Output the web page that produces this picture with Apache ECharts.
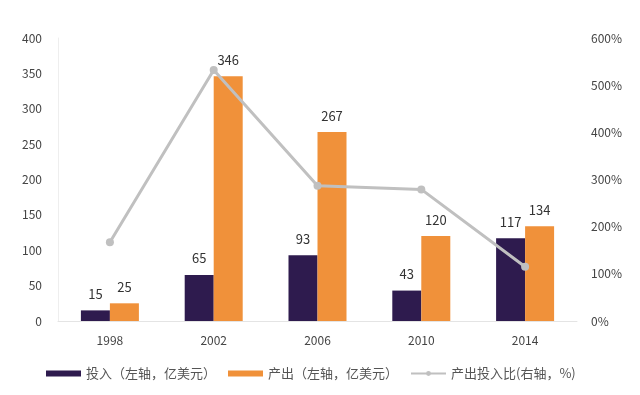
<!DOCTYPE html>
<html><head><meta charset="utf-8">
<script src="https://cdn.jsdelivr.net/npm/echarts@6/dist/echarts.min.js"></script>
<style>html,body{margin:0;padding:0;background:#fff}#c{width:640px;height:395px}</style>
</head><body><div id="c"></div>
<script>
var years = ['1998','2002','2006','2010','2014'];
var investment = [15, 65, 93, 43, 117];
var output = [25, 346, 267, 120, 134];
var ratio = [167, 532, 287, 279, 115];
var seriesNames = ['投入（左轴，亿美元）', '产出（左轴，亿美元）', '产出投入比(右轴，%)'];

var chart = echarts.init(document.getElementById('c'));
var font = '"Noto Sans CJK SC", "Open Sans", sans-serif';
chart.setOption({
  animation: false,
  textStyle: {fontFamily: font},
  grid: {left: 58, right: 63, top: 38, bottom: 74},
  legend: {
    left: 46, top: 367, padding: 0, itemWidth: 35, itemHeight: 6, itemGap: 12,
    textStyle: {fontSize: 13, color: '#555', fontFamily: font},
    data: [
      {name: seriesNames[0], icon: 'rect'},
      {name: seriesNames[1], icon: 'rect'},
      {name: seriesNames[2]}
    ]
  },
  xAxis: {
    type: 'category', data: years,
    axisLine: {lineStyle: {color: '#e4e4e4'}},
    axisTick: {show: false},
    axisLabel: {color: '#444', fontSize: 12, margin: 13}
  },
  yAxis: [
    {type: 'value', min: 0, max: 400, interval: 50,
     axisLine: {show: true, lineStyle: {color: '#eeeeee'}},
     splitLine: {show: false}, axisTick: {show: false},
     axisLabel: {color: '#444', fontSize: 12, margin: 16}},
    {type: 'value', min: 0, max: 600, interval: 100,
     axisLine: {show: false}, splitLine: {show: false}, axisTick: {show: false},
     axisLabel: {color: '#444', fontSize: 12, margin: 14, formatter: '{value}%'}}
  ],
  series: [
    {name: seriesNames[0], type: 'bar', data: investment, barWidth: 29, barGap: '0%',
     itemStyle: {color: '#2e1b4e'},
     label: {show: true, position: 'top', distance: 10, color: '#333', fontSize: 13}},
    {name: seriesNames[1], type: 'bar', data: output, barWidth: 29,
     itemStyle: {color: '#f0913a'},
     label: {show: true, position: 'top', distance: 10, color: '#333', fontSize: 13}},
    {name: seriesNames[2], type: 'line', yAxisIndex: 1, data: ratio,
     symbol: 'circle', symbolSize: 8, z: 5,
     lineStyle: {color: '#c0c0c0', width: 3},
     itemStyle: {color: '#c0c0c0'}}
  ]
});
</script></body></html>
